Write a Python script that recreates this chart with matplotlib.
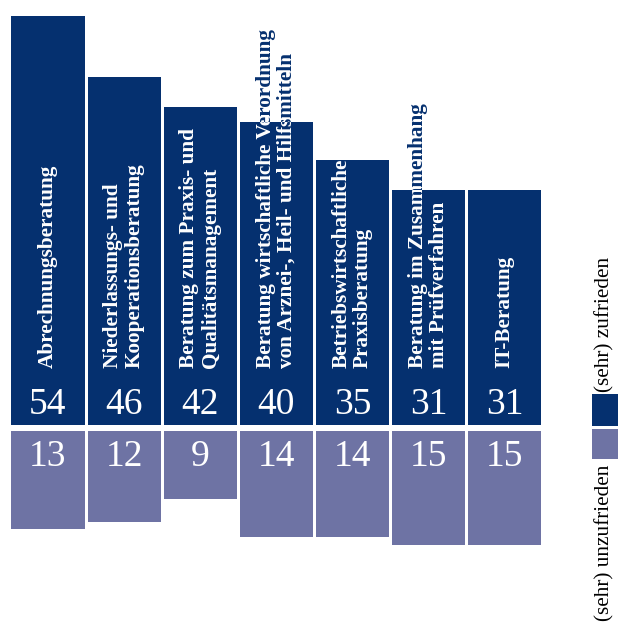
import matplotlib
matplotlib.use("Agg")
import matplotlib.pyplot as plt
import numpy as np
from matplotlib.patches import Rectangle
from matplotlib.transforms import Bbox, TransformedBbox

categories = [
    "Abrechnungsberatung",
    "Niederlassungs- und\nKooperationsberatung",
    "Beratung zum Praxis- und\nQualitätsmanagement",
    "Beratung wirtschaftliche Verordnung\nvon Arznei-, Heil- und Hilfsmitteln",
    "Betriebswirtschaftliche\nPraxisberatung",
    "Beratung im Zusammenhang\nmit Prüfverfahren",
    "IT-Beratung",
]
zufrieden = [54, 46, 42, 40, 35, 31, 31]
unzufrieden = [13, 12, 9, 14, 14, 15, 15]
legend_labels = ["(sehr) zufrieden", "(sehr) unzufrieden"]

DARK = "#05306f"
LIGHT = "#6e73a4"
W, H = 618, 624

fig = plt.figure(figsize=(W / 100, H / 100), dpi=100)
ax = fig.add_axes([0, 0, 1, 1])

# pixel mapping
px_per_x = 76.1
x0_px = 48.0
px_per_unit = 7.57
base_px = 425.0  # from top
ax.set_xlim(-x0_px / px_per_x, (W - x0_px) / px_per_x)
ax.set_ylim(-(H - base_px) / px_per_unit, base_px / px_per_unit)
ax.axis("off")

x = np.arange(len(categories))
gap = 6 / px_per_unit
bars_top = ax.bar(x, zufrieden, width=0.96, color=DARK, linewidth=0, zorder=2)
bars_bot = ax.bar(x, [-v for v in unzufrieden], bottom=-gap, width=0.96,
                  color=LIGHT, linewidth=0, zorder=2)

label_y = (base_px - 368) / px_per_unit
for xi, lab, rect in zip(x, categories, bars_top):
    kw = dict(rotation=90, rotation_mode="anchor", ha="left", va="center",
              multialignment="left", fontsize=15.3, fontweight="bold",
              family="Liberation Serif", linespacing=1.1)
    ax.text(xi, label_y, lab, color=DARK, zorder=3, **kw)
    t = ax.text(xi, label_y, lab, color="white", zorder=4, **kw)
    bx = Bbox.from_bounds(rect.get_x(), rect.get_y(), rect.get_width(), rect.get_height())
    t.set_clip_box(TransformedBbox(bx, ax.transData))
    t.set_clip_on(True)

num_top_y = (base_px - 414) / px_per_unit
num_bot_y = -(466 - base_px) / px_per_unit
for xi, v in zip(x, zufrieden):
    ax.text(xi, num_top_y, str(v), color="white", ha="center", va="baseline",
            fontsize=27, family="Liberation Serif", zorder=5)
for xi, v in zip(x, unzufrieden):
    ax.text(xi, num_bot_y, str(v), color="white", ha="center", va="baseline",
            fontsize=27, family="Liberation Serif", zorder=5)

# legend
fig.patches.append(Rectangle((592 / W, (H - 426) / H), 26 / W, 32 / H,
                             transform=fig.transFigure, color=DARK, linewidth=0))
fig.patches.append(Rectangle((592 / W, (H - 459) / H), 26 / W, 30 / H,
                             transform=fig.transFigure, color=LIGHT, linewidth=0))
fig.text(605 / W, (H - 392) / H, legend_labels[0], rotation=90,
         rotation_mode="anchor", ha="left", va="center", fontsize=15.3,
         family="Liberation Serif", color="black")
fig.text(605 / W, (H - 465) / H, legend_labels[1], rotation=90,
         rotation_mode="anchor", ha="right", va="center", fontsize=15.3,
         family="Liberation Serif", color="black")

fig.savefig("out.png", dpi=100)
